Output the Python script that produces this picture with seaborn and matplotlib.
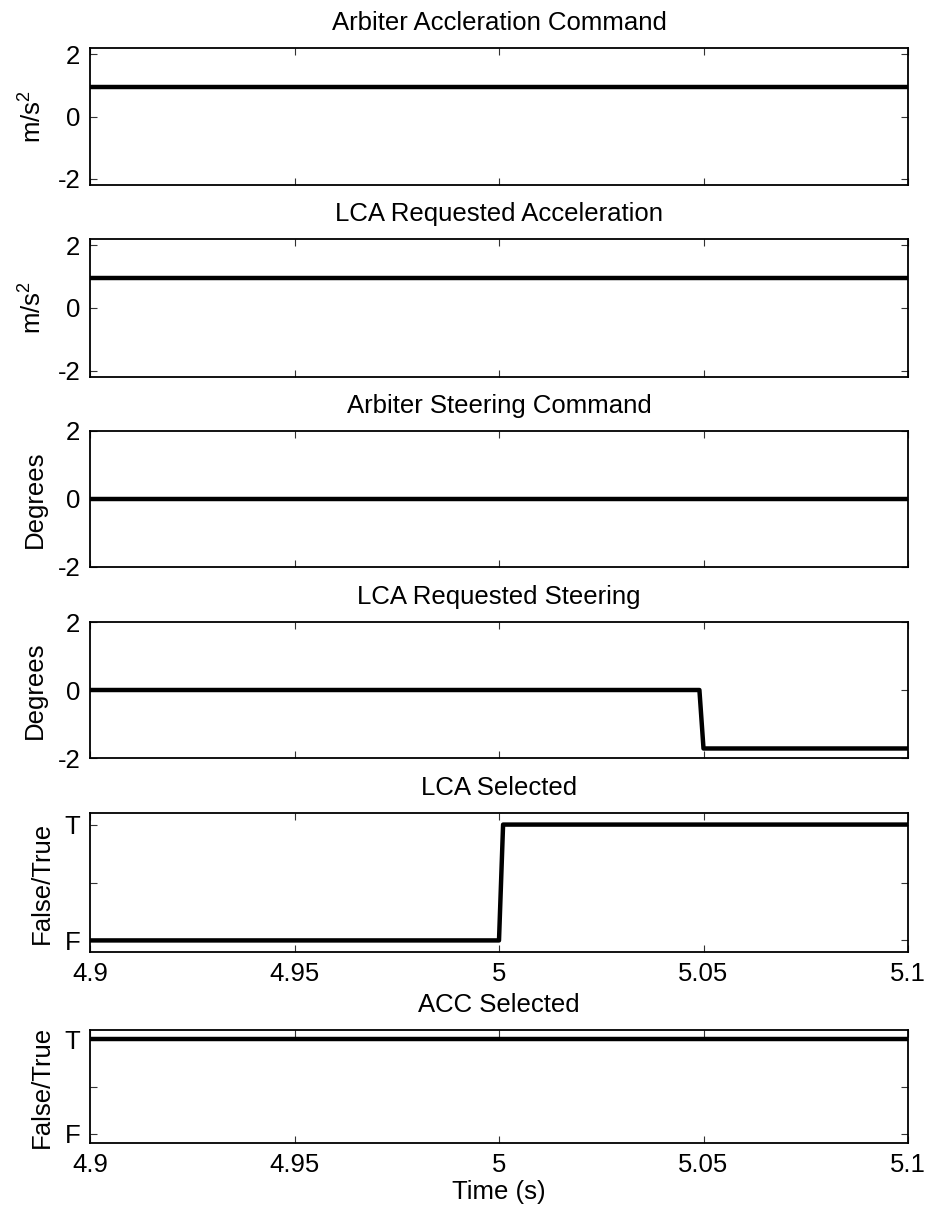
import matplotlib
matplotlib.use("Agg")
import matplotlib.pyplot as plt
import seaborn as sns
import pandas as pd

# ---- data ----
titles = ["Arbiter Accleration Command", "LCA Requested Acceleration",
          "Arbiter Steering Command", "LCA Requested Steering",
          "LCA Selected", "ACC Selected"]
ylabels = ["m/s$^2$", "m/s$^2$", "Degrees", "Degrees", "False/True", "False/True"]

t_arb_acc = [4.9, 5.1]
v_arb_acc = [0.95, 0.95]
t_lca_acc = [4.9, 5.1]
v_lca_acc = [0.95, 0.95]
t_arb_str = [4.9, 5.1]
v_arb_str = [0.0, 0.0]
t_lca_str = [4.9, 5.049, 5.05, 5.1]
v_lca_str = [0.0, 0.0, -1.72, -1.72]
t_lca_sel = [4.9, 5.0, 5.001, 5.1]
v_lca_sel = [0, 0, 1, 1]
t_acc_sel = [4.9, 5.1]
v_acc_sel = [1, 1]

xticks = [4.9, 4.95, 5.0, 5.05, 5.1]
xticklabels = ["4.9", "4.95", "5", "5.05", "5.1"]
num_ticks = [-2, 0, 2]
num_ticklabels = ["-2", "0", "2"]
bool_ticks = [0, 0.5, 1]
bool_ticklabels = ["F", "", "T"]

series = [(t_arb_acc, v_arb_acc), (t_lca_acc, v_lca_acc), (t_arb_str, v_arb_str),
          (t_lca_str, v_lca_str), (t_lca_sel, v_lca_sel), (t_acc_sel, v_acc_sel)]

sns.set_theme(style="ticks")
plt.rcParams['font.family'] = ['Liberation Sans', 'DejaVu Sans']
plt.rcParams['axes.unicode_minus'] = False
plt.rcParams['mathtext.fontset'] = 'custom'
plt.rcParams['mathtext.rm'] = 'Liberation Sans'
plt.rcParams['mathtext.it'] = 'Liberation Sans'
for k in ['text.color', 'axes.labelcolor', 'xtick.labelcolor', 'ytick.labelcolor',
          'axes.titlecolor']:
    plt.rcParams[k] = 'black'

W, H = 928, 1215
fig = plt.figure(figsize=(W / 100, H / 100), dpi=100)
fs = 18.5

# pixel boxes (top, bottom)
boxes = [(48, 185), (239, 377), (431, 567), (622, 758), (813, 952), (1030, 1143)]
left_px, right_px = 90, 908
ylims = [(-2.2, 2.2), (-2.2, 2.2), (-2, 2), (-2, 2), (-0.1, 1.1), (-0.1, 1.1)]

for i, ((tp, bt), (tx, vy)) in enumerate(zip(boxes, series)):
    ax = fig.add_axes([left_px / W, 1 - bt / H, (right_px - left_px) / W, (bt - tp) / H])
    df = pd.DataFrame({"t": tx, "v": vy})
    sns.lineplot(data=df, x="t", y="v", ax=ax, color="black", linewidth=3.2,
                 estimator=None, sort=False)
    ax.set_xlim(4.9, 5.1)
    ax.set_ylim(*ylims[i])
    ax.set_xticks(xticks)
    if i >= 4:
        ax.set_yticks(bool_ticks)
        ax.set_yticklabels(bool_ticklabels)
        ax.set_xticklabels(xticklabels)
    else:
        ax.set_yticks(num_ticks)
        ax.set_yticklabels(num_ticklabels)
        ax.set_xticklabels([])
    ax.set_title(titles[i], fontsize=fs, pad=13, color="black")
    ax.set_ylabel(ylabels[i], fontsize=fs, labelpad=8, color="black")
    ax.set_xlabel("Time (s)" if i == 5 else "", fontsize=fs, labelpad=2, color="black")
    ax.tick_params(direction="in", length=5, width=0.8, top=True, right=True,
                   labelsize=fs, pad=7, color="#333333", labelcolor="black")
    for sp in ax.spines.values():
        sp.set_visible(True)
        sp.set_linewidth(1.3)
        sp.set_color("black")

fig.savefig("out.png", dpi=100, facecolor="white")
